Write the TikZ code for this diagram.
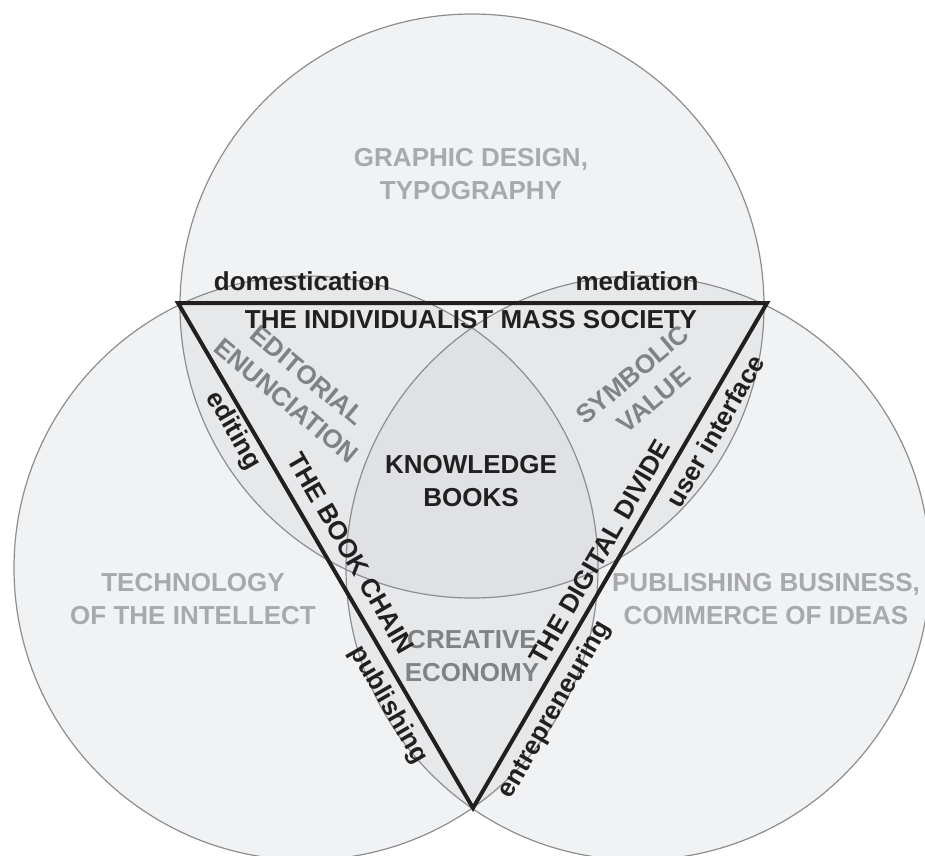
\documentclass[tikz,border=0pt]{standalone}
\usepackage{fontspec}
\setmainfont{Liberation Sans}
\definecolor{ringfill}{RGB}{200,203,208}
\definecolor{ringline}{RGB}{140,141,143}
\definecolor{lightlabel}{RGB}{167,169,172}
\definecolor{midlabel}{RGB}{128,130,133}
\definecolor{ink}{RGB}{35,31,32}
\tikzset{
  label/.style={font=\fontsize{26}{33}\selectfont\bfseries, align=center, inner sep=0pt},
  outer/.style={label, text=lightlabel},
  overlap/.style={label, text=midlabel},
  core/.style={label, text=ink},
}
\begin{document}
\begin{tikzpicture}[x=1pt, y=-1pt]
      \useasboundingbox (0,0) rectangle (925,855);

      \coordinate (top) at (472,306);
      \coordinate (left) at (306,568);
      \coordinate (right) at (638,568);
      \coordinate (v1) at (178,303);
      \coordinate (v2) at (767,303);
      \coordinate (v3) at (473,808);

      \foreach \c in {top,left,right} {
          \fill[ringfill, fill opacity=.25] (\c) circle (292);
        }
      \foreach \c in {top,left,right} {
          \draw[ringline, line width=1.2pt] (\c) circle (292);
        }

      \draw[ink, line width=4pt] (v1) -- (v2) -- (v3) -- cycle;

      \node[outer] (design) at (471,174) {GRAPHIC DESIGN,\\TYPOGRAPHY};
      \node[outer] (intellect) at (193,599) {TECHNOLOGY\\OF THE INTELLECT};
      \node[outer] (business) at (766,599) {PUBLISHING BUSINESS,\\COMMERCE OF IDEAS};
      \node[overlap, rotate=-40] (enunciation) at (297,388) {EDITORIAL\\ENUNCIATION};
      \node[overlap, rotate=40] (symbolic) at (643,387) {SYMBOLIC\\VALUE};
      \node[overlap] (creative) at (472,656) {CREATIVE\\ECONOMY};
      \node[core] (knowledge) at (471,481) {KNOWLEDGE\\BOOKS};

      \node[core] (society) at (471,320) {THE INDIVIDUALIST MASS SOCIETY};
      \node[core] (domestication) at (302,281) {domestication};
      \node[core] (mediation) at (637,281) {mediation};
      \node[core, rotate=-60] (chain) at (351,553) {THE BOOK CHAIN};
      \node[core, rotate=-60] (editing) at (233,431) {editing};
      \node[core, rotate=-60] (publishing) at (388,705) {publishing};
      \node[core, rotate=60] (divide) at (600,552) {THE DIGITAL DIVIDE};
      \node[core, rotate=60] (interface) at (715,431) {user interface};
      \node[core, rotate=60] (entrepreneuring) at (555,710) {entrepreneuring};
    \end{tikzpicture}
\end{document}
